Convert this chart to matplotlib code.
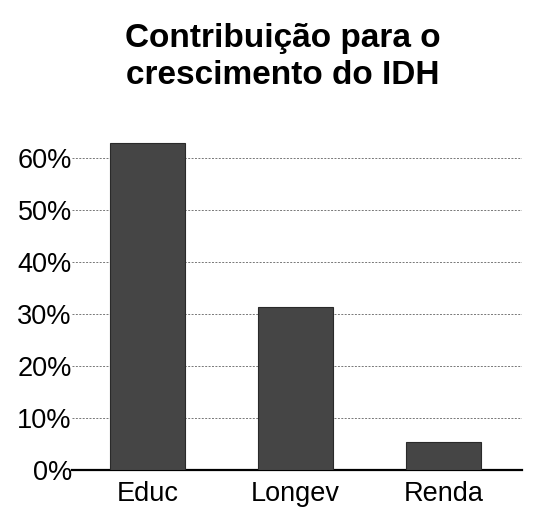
import matplotlib
matplotlib.use('Agg')
import matplotlib.pyplot as plt
from matplotlib.ticker import FuncFormatter

# contribution to IDH growth (fraction)
categories = ['Educ', 'Longev', 'Renda']
values = [0.628, 0.313, 0.054]
yticks = [0.0, 0.1, 0.2, 0.3, 0.4, 0.5, 0.6]

plt.rcParams['font.family'] = ['Liberation Sans', 'DejaVu Sans']

fig = plt.figure(figsize=(5.44, 5.15), dpi=100)
ax = fig.add_axes([0.132, 0.087, 0.828, 0.657])

x = list(range(len(categories)))
ax.bar(x, values, width=0.51, color='#454545', edgecolor='#2a2a2a',
       linewidth=0.8, zorder=3)

ax.set_xlim(-0.51, 2.53)
ax.set_ylim(0, 0.65)
ax.set_yticks(yticks)
ax.yaxis.set_major_formatter(FuncFormatter(lambda v, p: f'{v * 100:.0f}%'))
ax.set_xticks(x)
ax.set_xticklabels(categories)
ax.tick_params(axis='y', length=0, pad=0, labelsize=19.5, colors='black')
ax.tick_params(axis='x', length=0, pad=8, labelsize=19.5)

ax.grid(axis='y', color='#777777', linestyle=(0, (2, 1.5)), linewidth=0.7, zorder=1)
for s in ['top', 'right', 'left']:
    ax.spines[s].set_visible(False)
ax.spines['bottom'].set_linewidth(1.6)
ax.spines['bottom'].set_color('black')

fig.text(0.52, 0.889, 'Contribuição para o\ncrescimento do IDH', ha='center',
         va='center', fontsize=24, fontweight='bold', linespacing=1.25)

fig.savefig('out.png', dpi=100)
